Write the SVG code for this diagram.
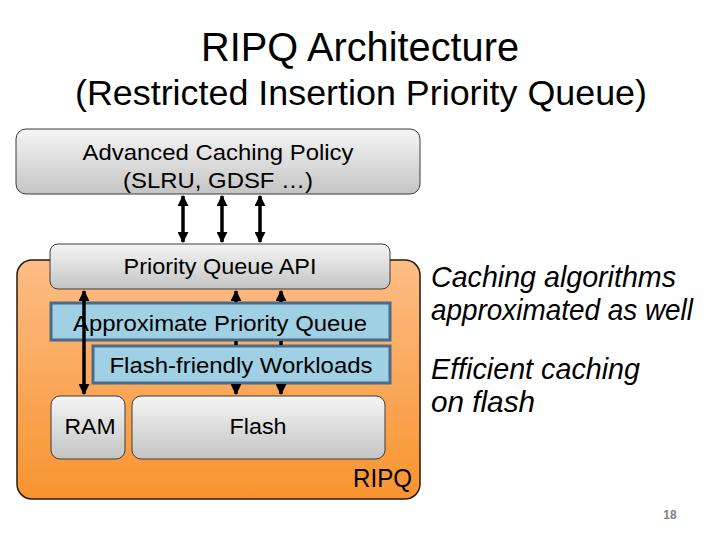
<svg xmlns="http://www.w3.org/2000/svg" width="720" height="540" viewBox="0 0 720 540">
<defs>
<linearGradient id="gGray" x1="0" y1="0" x2="0" y2="1">
<stop offset="0" stop-color="#f5f5f5"/>
<stop offset="1" stop-color="#c4c4c4"/>
</linearGradient>
<linearGradient id="gOrange" x1="0" y1="0" x2="0" y2="1">
<stop offset="0" stop-color="#fdbd86"/>
<stop offset="1" stop-color="#f8942f"/>
</linearGradient>
<marker id="ah" viewBox="0 0 10 10" refX="9" refY="5" markerWidth="11" markerHeight="11" markerUnits="userSpaceOnUse" orient="auto-start-reverse">
<path d="M0,0 L10,5 L0,10 Z" fill="#000"/>
</marker>
<style>
.t{font-family:"Liberation Sans",Arial,sans-serif;fill:#000}
.gray{fill:url(#gGray);stroke:#3c3c3c;stroke-width:1}
.blue{fill:#9fd0e3;stroke:#4a6b8c;stroke-width:3}
.ar{stroke:#000;stroke-width:3.5;fill:none}
.it{font-family:"Liberation Sans",Arial,sans-serif;font-style:italic;font-size:30px;fill:#000}
</style>
</defs>
<rect width="720" height="540" fill="#fff"/>
<g id="title">
<text class="t" x="360" y="61" font-size="41" text-anchor="middle" textLength="318" lengthAdjust="spacingAndGlyphs">RIPQ Architecture</text>
<text class="t" x="361" y="105" font-size="35" text-anchor="middle" textLength="572" lengthAdjust="spacingAndGlyphs">(Restricted Insertion Priority Queue)</text>
</g>
<g id="ripq">
<rect x="17" y="260" width="403" height="239" rx="15" fill="url(#gOrange)" stroke="#2a1a0a" stroke-width="1.5"/>
<text class="t" x="412" y="487" font-size="25" text-anchor="end" textLength="59" lengthAdjust="spacingAndGlyphs">RIPQ</text>
</g>
<g id="policy">
<rect class="gray" x="16" y="129" width="404" height="65" rx="10"/>
<text class="t" x="218" y="160" font-size="22" text-anchor="middle" textLength="271" lengthAdjust="spacingAndGlyphs">Advanced Caching Policy</text>
<text class="t" x="218" y="188" font-size="22" text-anchor="middle" textLength="190" lengthAdjust="spacingAndGlyphs">(SLRU, GDSF …)</text>
</g>
<g id="api">
<rect class="gray" x="50" y="244" width="340" height="45" rx="8"/>
<text class="t" x="220" y="274" font-size="22" text-anchor="middle" textLength="193" lengthAdjust="spacingAndGlyphs">Priority Queue API</text>
</g>
<g id="apq">
<rect class="blue" x="51" y="303" width="339" height="37"/>
<text class="t" x="220" y="331" font-size="22" text-anchor="middle" textLength="294" lengthAdjust="spacingAndGlyphs">Approximate Priority Queue</text>
</g>
<g id="ffw">
<rect class="blue" x="93" y="346" width="297" height="37"/>
<text class="t" x="241" y="373" font-size="22" text-anchor="middle" textLength="263" lengthAdjust="spacingAndGlyphs">Flash-friendly Workloads</text>
</g>
<g id="ram">
<rect class="gray" x="51" y="396" width="74" height="63" rx="9"/>
<text class="t" x="90" y="434" font-size="22" text-anchor="middle" textLength="51" lengthAdjust="spacingAndGlyphs">RAM</text>
</g>
<g id="flash">
<rect class="gray" x="132" y="396" width="253" height="63" rx="9"/>
<text class="t" x="258" y="434" font-size="22" text-anchor="middle" textLength="57" lengthAdjust="spacingAndGlyphs">Flash</text>
</g>
<g id="connectors">
<line class="ar" x1="183" y1="196" x2="183" y2="242" marker-start="url(#ah)" marker-end="url(#ah)"/>
<line class="ar" x1="222" y1="196" x2="222" y2="242" marker-start="url(#ah)" marker-end="url(#ah)"/>
<line class="ar" x1="260" y1="196" x2="260" y2="242" marker-start="url(#ah)" marker-end="url(#ah)"/>
<line class="ar" x1="84" y1="291" x2="84" y2="394" marker-start="url(#ah)" marker-end="url(#ah)"/>
<line class="ar" x1="236" y1="302" x2="236" y2="291" marker-end="url(#ah)"/>
<line class="ar" x1="281" y1="302" x2="281" y2="291" marker-end="url(#ah)"/>
<line class="ar" x1="236" y1="341" x2="236" y2="345"/>
<line class="ar" x1="281" y1="341" x2="281" y2="345"/>
<line class="ar" x1="236" y1="384" x2="236" y2="394" marker-end="url(#ah)"/>
<line class="ar" x1="281" y1="384" x2="281" y2="394" marker-end="url(#ah)"/>
</g>
<g id="notes">
<text class="it" x="431" y="287" textLength="245" lengthAdjust="spacingAndGlyphs">Caching  algorithms</text>
<text class="it" x="431" y="320" textLength="262" lengthAdjust="spacingAndGlyphs">approximated as well</text>
<text class="it" x="431" y="379" textLength="209" lengthAdjust="spacingAndGlyphs">Efficient  caching</text>
<text class="it" x="431" y="412" textLength="104" lengthAdjust="spacingAndGlyphs">on  flash</text>
</g>
<g id="page">
<text x="670" y="519" font-family="Liberation Sans, Arial, sans-serif" font-size="12" font-weight="bold" fill="#808080" text-anchor="middle">18</text>
</g>
</svg>
